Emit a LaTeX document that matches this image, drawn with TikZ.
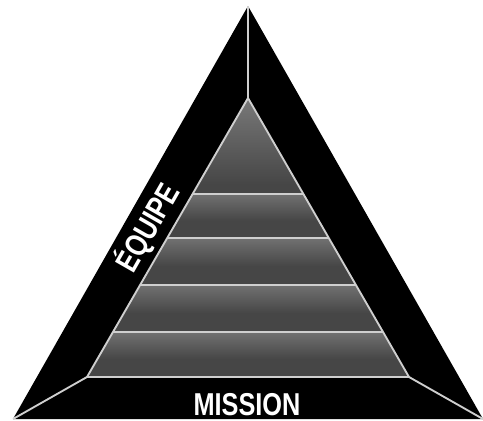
\documentclass[tikz,border=0pt]{standalone}
\usepackage{fontspec}
\setmainfont{Liberation Sans}
\newfontfamily\bandfont[FakeStretch=0.8]{Liberation Sans}
\usepackage{xcolor}
\usetikzlibrary{calc, math}
\definecolor{banddark}{HTML}{464646}
\definecolor{bandlight}{HTML}{959595}
\definecolor{edgegray}{HTML}{CFCFCF}
\pgfdeclareverticalshading{bandshade}{100bp}{color(0bp)=(banddark); color(45bp)=(banddark); color(100bp)=(bandlight)}
\pgfdeclareverticalshading{capshade}{100bp}{color(0bp)=(banddark); color(30bp)=(banddark); color(100bp)=(bandlight)}
\tikzset{
  edgeline/.style={draw=edgegray, line width=1.6pt, line join=miter},
  bandtext/.style={text=white, font=\bandfont\bfseries\fontsize{27}{27}\selectfont, inner sep=0pt}
}

\begin{document}
\begin{tikzpicture}[x=0.03cm, y=-0.03cm]
\tikzmath{
\ax=248; \ay=6;
\Bx=13; \Cx=483; \By=419;
\iy=98; \ib=377; \hw=161;
}
\useasboundingbox (0,0) rectangle (483,420);

\coordinate (A) at (\ax,\ay);
\coordinate (B) at (\Bx,\By);
\coordinate (C) at (\Cx,\By);
\coordinate (a) at (\ax,\iy);
\coordinate (b) at (\ax-\hw,\ib);
\coordinate (c) at (\ax+\hw,\ib);

%outer triangle
\fill[black] (A) -- (B) -- (C) -- cycle;

%inner pyramid, top piece
\shade[shading=capshade] (a) -- ($(a)!0.344!(b)$) -- ($(a)!0.344!(c)$) -- cycle;
%inner pyramid, bands
\foreach \ta/\tb in {0.344/0.502, 0.502/0.670, 0.670/0.839, 0.839/1}{
  \shade[shading=bandshade] ($(a)!\ta!(b)$) -- ($(a)!\tb!(b)$) -- ($(a)!\tb!(c)$) -- ($(a)!\ta!(c)$) -- cycle;
  \draw[edgeline] ($(a)!\ta!(b)$) -- ($(a)!\ta!(c)$);
}

%light lines
\draw[edgeline] (A) -- (a);
\draw[edgeline] (B) -- (b);
\draw[edgeline] (C) -- (c);
\draw[edgeline] (a) -- (b) -- (c) -- cycle;

%labels
\node[bandtext, anchor=base, rotate=60.2] (equipe) at (157,233) {ÉQUIPE};
\node[bandtext, anchor=base] (mission) at (247,415) {MISSION};
\end{tikzpicture}
\end{document}
